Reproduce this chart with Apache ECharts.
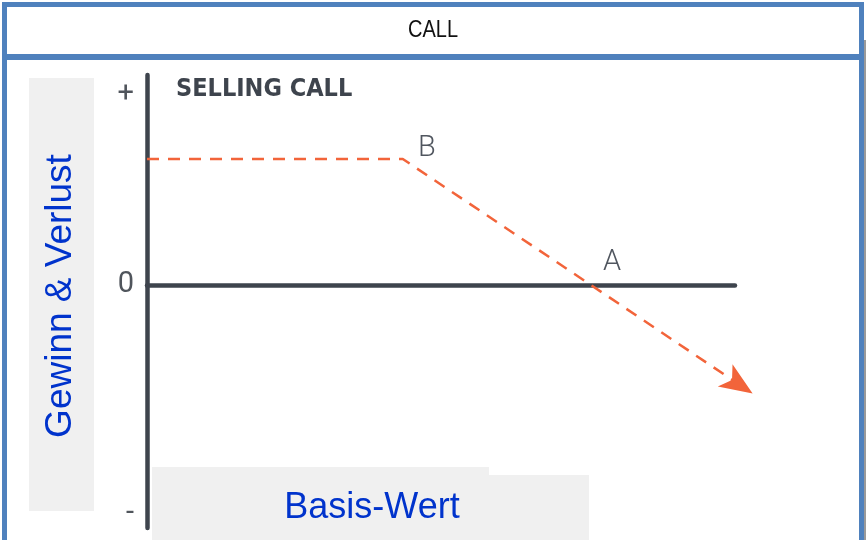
<!DOCTYPE html>
<html>
<head>
<meta charset="utf-8">
<script src="https://cdn.jsdelivr.net/npm/echarts@6/dist/echarts.min.js"></script>
<style>
  html, body { margin: 0; padding: 0; background: #fff; }
  #chart { width: 866px; height: 540px; }
</style>
</head>
<body>
<div id="chart"></div>
<script>
// payoff of a short call: flat premium up to B, then falling through A (break-even)
const pointNames = ['', 'B', 'A', '']
const xValues = [0, 43.5, 75.5, 103]
const yValues = [6, 6, 0, -5.17]
const yTickValues = [9.05, 0, -10.9]
const yTickLabels = ['+', '0', '-']

const axisColor = '#3e444d'
const payoffColor = '#f2643a'
const labelBlue = '#0033cc'
const frameBlue = '#4f81bd'

const chart = echarts.init(document.getElementById('chart'))

const seriesData = xValues.map((x, i) => {
  const item = { name: pointNames[i], value: [x, yValues[i]] }
  if (i === xValues.length - 1) {
    // arrow head at the end of the line
    item.symbol = 'arrow'
    item.symbolSize = [20, 33]
    item.symbolRotate = -123.6
    item.itemStyle = { color: payoffColor, opacity: 1 }
  }
  return item
})

const option = {
  animation: false,
  backgroundColor: '#fff',
  title: {
    text: 'SELLING CALL',
    left: 176,
    top: 77,
    padding: 0,
    textStyle: {
      fontFamily: 'DejaVu Sans Condensed',
      fontWeight: 'bold',
      fontSize: 25,
      color: axisColor
    }
  },
  grid: { left: 147, right: 131, top: 75, bottom: 12 },
  xAxis: {
    type: 'value',
    min: 0,
    max: 100,
    axisLine: { onZero: true, lineStyle: { color: axisColor, width: 4.5 } },
    axisTick: { show: false },
    axisLabel: { show: false },
    splitLine: { show: false }
  },
  yAxis: {
    type: 'value',
    min: -11.57,
    max: 10,
    axisLine: { show: true, lineStyle: { color: axisColor, width: 4.5 } },
    axisTick: { show: false },
    splitLine: { show: false },
    axisLabel: {
      customValues: yTickValues,
      margin: 13,
      fontFamily: 'Roboto',
      fontSize: 29,
      color: '#50555c',
      formatter: (v) => {
        const i = yTickValues.indexOf(v)
        return i >= 0 ? yTickLabels[i] : ''
      }
    }
  },
  graphic: [
    // outer frame and title bar
    { type: 'rect', z: 0, shape: { x: 4.5, y: 4.5, width: 857, height: 560 },
      style: { fill: 'none', stroke: frameBlue, lineWidth: 5 } },
    { type: 'rect', z: 0, shape: { x: 2, y: 54, width: 862, height: 6 },
      style: { fill: frameBlue } },
    { type: 'rect', z: 0, shape: { x: 864, y: 40, width: 2, height: 500 },
      style: { fill: '#9a9a9a' } },
    { type: 'text', z: 1, x: 433, y: 30, scaleY: 1.2,
      style: { text: 'CALL', fontFamily: 'Liberation Sans', fontSize: 20,
        fill: '#111', align: 'center', verticalAlign: 'middle' } },
    // grey boxes behind axis names
    { type: 'rect', z: 0, shape: { x: 29, y: 78, width: 65, height: 433 },
      style: { fill: '#f0f0f0' } },
    { type: 'rect', z: 0, shape: { x: 152, y: 467, width: 337, height: 73 },
      style: { fill: '#f0f0f0' } },
    { type: 'rect', z: 0, shape: { x: 152, y: 475, width: 437, height: 65 },
      style: { fill: '#f0f0f0' } },
    { type: 'text', z: 1, x: 61, y: 296, rotation: Math.PI / 2,
      style: { text: 'Gewinn & Verlust', fontFamily: 'Liberation Sans', fontSize: 37,
        fill: labelBlue, align: 'center', verticalAlign: 'middle' } },
    { type: 'text', z: 1, x: 372, y: 508,
      style: { text: 'Basis-Wert', fontFamily: 'Liberation Sans', fontSize: 36,
        fill: labelBlue, align: 'center', verticalAlign: 'middle' } }
  ],
  series: [
    {
      type: 'line',
      data: seriesData,
      clip: false,
      symbol: 'circle',
      symbolSize: 0,
      showSymbol: true,
      itemStyle: { color: payoffColor },
      lineStyle: { color: payoffColor, width: 2.5, type: [12, 9] },
      label: {
        show: true,
        position: 'inside',
        fontFamily: 'Roboto',
        fontWeight: 300,
        fontSize: 29,
        color: '#50565f',
        formatter: (p) => p.name
      },
      labelLayout: (p) => {
        if (p.dataIndex === 1) return { dx: 24, dy: -10 }
        if (p.dataIndex === 2) return { dx: 21, dy: -22 }
        return {}
      }
    }
  ]
}

chart.setOption(option)
window.addEventListener('resize', () => {
  chart.resize()
})
</script>
</body>
</html>
